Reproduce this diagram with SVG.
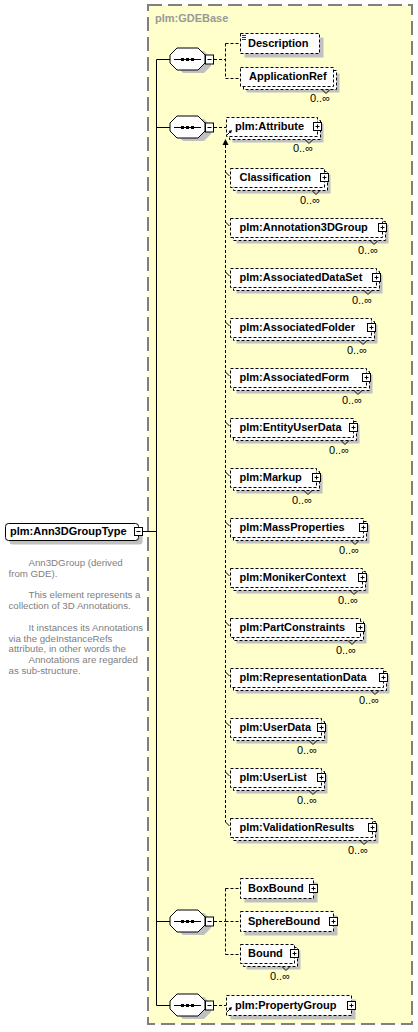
<svg xmlns="http://www.w3.org/2000/svg" width="418" height="1032" viewBox="0 0 418 1032">
<style>
.frame{fill:#FFFFCC;stroke:#808080;stroke-width:2;stroke-dasharray:14,6}
.sh{fill:#C0C0C0}
.bx{fill:#fff;stroke:#000;stroke-dasharray:3,2}
.sol{fill:#fff;stroke:#000}
.btn{fill:#fff;stroke:#000}
.ln{stroke:#000;fill:none}
.dl{stroke:#000;fill:none;stroke-dasharray:3,2}
.t{font-family:"Liberation Sans",Arial,sans-serif;font-weight:bold;font-size:11px;fill:#000}
.o{font-family:"Liberation Sans",Arial,sans-serif;font-size:11px;fill:#000;text-anchor:end}
.g{font-family:"Liberation Sans",Arial,sans-serif;font-weight:bold;font-size:11px;fill:#999}
.a{font-family:"Liberation Sans",Arial,sans-serif;font-size:9.7px;fill:#808080}
</style>
<defs>
<g id="seq">
<polygon class="sh" points="3,-4 10,-11 31,-11 38,-4 38,4 31,11 10,11 3,4" transform="translate(3,3)"/>
<polygon class="sol" points="0,-4 7,-11 28,-11 35,-4 35,4 28,11 7,11 0,4"/>
<line class="ln" x1="4" y1="0.5" x2="31" y2="0.5"/>
<rect x="11" y="-1" width="3" height="3" fill="#000"/>
<rect x="16" y="-1" width="3" height="3" fill="#000"/>
<rect x="21" y="-1" width="3" height="3" fill="#000"/>
<rect class="btn" x="35.5" y="-4" width="8" height="9"/>
<line class="ln" x1="37.5" y1="0.5" x2="41.5" y2="0.5"/>
</g>
<g id="plus">
<rect class="btn" x="-4" y="-4" width="8" height="8"/>
<path class="ln" d="M-2,0H2M0,-2V2"/>
</g>
<g id="ref">
<path d="M0,0L4,-4" stroke="#000"/>
<polygon points="5,-5 1.5,-4 4,-1.5" fill="#000"/>
</g>
</defs>

<rect class="frame" x="148" y="5" width="264" height="1019"/>
<text class="g" x="155" y="22">plm:GDEBase</text>

<g id="connectors">
<line class="ln" x1="143" y1="531.5" x2="156.5" y2="531.5"/>
<line class="ln" x1="156.5" y1="59.5" x2="156.5" y2="1005.5"/>
<line class="ln" x1="156.5" y1="59.5" x2="170" y2="59.5"/>
<line class="ln" x1="156.5" y1="127.5" x2="170" y2="127.5"/>
<line class="ln" x1="156.5" y1="921.5" x2="170" y2="921.5"/>
<line class="ln" x1="156.5" y1="1005.5" x2="170" y2="1005.5"/>
<path class="dl" d="M214,59.5H225.5M225.5,43.5V78.5M225.5,43.5H240M225.5,78.5H240"/>
<path class="dl" d="M214,127.5H226"/>
<path class="dl" d="M225.5,145V822"/>
<polygon points="225.5,139 222.5,145 228.5,145" fill="#000"/>
<path class="dl" d="M214,921.5H225.5M225.5,888.5V954.5M225.5,888.5H240M225.5,921.5H240M225.5,954.5H240"/>
<path class="dl" d="M214,1005.5H226"/>
</g>

<g id="root">
<rect class="sh" x="9.5" y="527.5" width="133" height="17" rx="3"/>
<rect class="sol" x="5.5" y="523.5" width="133" height="17" rx="3"/>
<text class="t" x="10" y="535">plm:Ann3DGroupType</text>
<rect class="btn" x="134.5" y="527.5" width="8" height="8"/>
<line class="ln" x1="136.5" y1="531.5" x2="140.5" y2="531.5"/>
</g>

<g id="annotation" class="a">
<text x="28.5" y="566">Ann3DGroup (derived</text>
<text x="8.5" y="576.8">from GDE).</text>
<text x="28.5" y="598.4">This element represents a</text>
<text x="8.5" y="609.2">collection of 3D Annotations.</text>
<text x="28.5" y="630.8">It instances its Annotations</text>
<text x="8.5" y="641.6">via the gdeInstanceRefs</text>
<text x="8.5" y="652.4">attribute, in other words the</text>
<text x="28.5" y="663.2">Annotations are regarded</text>
<text x="8.5" y="674">as sub-structure.</text>
</g>

<g id="seq1"><use href="#seq" x="170" y="59"/></g>
<g id="seq2"><use href="#seq" x="170" y="127"/></g>
<g id="seq3"><use href="#seq" x="170" y="921"/></g>
<g id="seq4"><use href="#seq" x="170" y="1005"/></g>

<g id="Description">
<rect class="sh" x="244.5" y="37.5" width="79" height="20"/>
<rect class="bx" x="240.5" y="33.5" width="79" height="20"/>
<path class="ln" d="M242,35.5H246M242,37.5H246M242,39.5H246" stroke-width="0.8"/>
<text class="t" x="248" y="47">Description</text>
</g>

<g id="ApplicationRef">
<rect class="sh" x="246.5" y="73.5" width="93" height="19"/>
<rect class="bx" x="243.5" y="70.5" width="93" height="19"/>
<rect class="bx" x="240.5" y="67.5" width="93" height="19"/>
<text class="t" x="249" y="80">ApplicationRef</text>
<polyline class="ln" points="322,89.5 326,93.5 330,89.5"/>
<text class="o" x="330" y="102">0..∞</text>
</g>

<g id="Attribute">
<rect class="sh" x="232.5" y="123.5" width="91" height="19"/>
<rect class="bx" x="229.5" y="120.5" width="91" height="19"/>
<rect class="bx" x="226.5" y="117.5" width="91" height="19"/>
<text class="t" x="235" y="130">plm:Attribute</text>
<use href="#plus" x="317.5" y="126.5"/>
<use href="#ref" x="227" y="135"/>
<polyline class="ln" points="305,139.5 309,143.5 313,139.5"/>
<text class="o" x="313" y="152">0..∞</text>
</g>

<g id="Classification">
<path class="ln" d="M225.5,172L229.5,176"/>
<rect class="sh" x="236.5" y="174.5" width="94" height="19"/>
<rect class="bx" x="233.5" y="171.5" width="94" height="19"/>
<rect class="bx" x="230.5" y="168.5" width="94" height="19"/>
<text class="t" x="239.5" y="181">Classification</text>
<use href="#plus" x="324.5" y="177.5"/>
<polyline class="ln" points="312,190.5 316,194.5 320,190.5"/>
<text class="o" x="320" y="203.5">0..∞</text>
</g>

<g id="Annotation3DGroup">
<path class="ln" d="M225.5,222L229.5,226"/>
<rect class="sh" x="236.5" y="224.5" width="152" height="19"/>
<rect class="bx" x="233.5" y="221.5" width="152" height="19"/>
<rect class="bx" x="230.5" y="218.5" width="152" height="19"/>
<text class="t" x="239.5" y="231">plm:Annotation3DGroup</text>
<use href="#plus" x="382.5" y="227.5"/>
<polyline class="ln" points="370,240.5 374,244.5 378,240.5"/>
<text class="o" x="378" y="253.5">0..∞</text>
</g>

<g id="AssociatedDataSet">
<path class="ln" d="M225.5,272L229.5,276"/>
<rect class="sh" x="236.5" y="274.5" width="146" height="19"/>
<rect class="bx" x="233.5" y="271.5" width="146" height="19"/>
<rect class="bx" x="230.5" y="268.5" width="146" height="19"/>
<text class="t" x="239.5" y="281">plm:AssociatedDataSet</text>
<use href="#plus" x="376.5" y="277.5"/>
<polyline class="ln" points="364,290.5 368,294.5 372,290.5"/>
<text class="o" x="372" y="303.5">0..∞</text>
</g>

<g id="AssociatedFolder">
<path class="ln" d="M225.5,322L229.5,326"/>
<rect class="sh" x="236.5" y="324.5" width="141" height="19"/>
<rect class="bx" x="233.5" y="321.5" width="141" height="19"/>
<rect class="bx" x="230.5" y="318.5" width="141" height="19"/>
<text class="t" x="239.5" y="331">plm:AssociatedFolder</text>
<use href="#plus" x="371.5" y="327.5"/>
<polyline class="ln" points="359,340.5 363,344.5 367,340.5"/>
<text class="o" x="367" y="353.5">0..∞</text>
</g>

<g id="AssociatedForm">
<path class="ln" d="M225.5,372L229.5,376"/>
<rect class="sh" x="236.5" y="374.5" width="136" height="19"/>
<rect class="bx" x="233.5" y="371.5" width="136" height="19"/>
<rect class="bx" x="230.5" y="368.5" width="136" height="19"/>
<text class="t" x="239.5" y="381">plm:AssociatedForm</text>
<use href="#plus" x="366.5" y="377.5"/>
<polyline class="ln" points="354,390.5 358,394.5 362,390.5"/>
<text class="o" x="362" y="403.5">0..∞</text>
</g>

<g id="EntityUserData">
<path class="ln" d="M225.5,422L229.5,426"/>
<rect class="sh" x="236.5" y="424.5" width="123" height="19"/>
<rect class="bx" x="233.5" y="421.5" width="123" height="19"/>
<rect class="bx" x="230.5" y="418.5" width="123" height="19"/>
<text class="t" x="239.5" y="431">plm:EntityUserData</text>
<use href="#plus" x="353.5" y="427.5"/>
<polyline class="ln" points="341,440.5 345,444.5 349,440.5"/>
<text class="o" x="349" y="453.5">0..∞</text>
</g>

<g id="Markup">
<path class="ln" d="M225.5,472L229.5,476"/>
<rect class="sh" x="236.5" y="474.5" width="86" height="19"/>
<rect class="bx" x="233.5" y="471.5" width="86" height="19"/>
<rect class="bx" x="230.5" y="468.5" width="86" height="19"/>
<text class="t" x="239.5" y="481">plm:Markup</text>
<use href="#plus" x="316.5" y="477.5"/>
<polyline class="ln" points="304,490.5 308,494.5 312,490.5"/>
<text class="o" x="312" y="503.5">0..∞</text>
</g>

<g id="MassProperties">
<path class="ln" d="M225.5,522L229.5,526"/>
<rect class="sh" x="236.5" y="524.5" width="133" height="19"/>
<rect class="bx" x="233.5" y="521.5" width="133" height="19"/>
<rect class="bx" x="230.5" y="518.5" width="133" height="19"/>
<text class="t" x="239.5" y="531">plm:MassProperties</text>
<use href="#plus" x="363.5" y="527.5"/>
<polyline class="ln" points="351,540.5 355,544.5 359,540.5"/>
<text class="o" x="359" y="553.5">0..∞</text>
</g>

<g id="MonikerContext">
<path class="ln" d="M225.5,572L229.5,576"/>
<rect class="sh" x="236.5" y="574.5" width="132" height="19"/>
<rect class="bx" x="233.5" y="571.5" width="132" height="19"/>
<rect class="bx" x="230.5" y="568.5" width="132" height="19"/>
<text class="t" x="239.5" y="581">plm:MonikerContext</text>
<use href="#plus" x="362.5" y="577.5"/>
<polyline class="ln" points="350,590.5 354,594.5 358,590.5"/>
<text class="o" x="358" y="603.5">0..∞</text>
</g>

<g id="PartConstraints">
<path class="ln" d="M225.5,622L229.5,626"/>
<rect class="sh" x="236.5" y="624.5" width="130" height="19"/>
<rect class="bx" x="233.5" y="621.5" width="130" height="19"/>
<rect class="bx" x="230.5" y="618.5" width="130" height="19"/>
<text class="t" x="239.5" y="631">plm:PartConstraints</text>
<use href="#plus" x="360.5" y="627.5"/>
<polyline class="ln" points="348,640.5 352,644.5 356,640.5"/>
<text class="o" x="356" y="653.5">0..∞</text>
</g>

<g id="RepresentationData">
<path class="ln" d="M225.5,672L229.5,676"/>
<rect class="sh" x="236.5" y="674.5" width="153" height="19"/>
<rect class="bx" x="233.5" y="671.5" width="153" height="19"/>
<rect class="bx" x="230.5" y="668.5" width="153" height="19"/>
<text class="t" x="239.5" y="681">plm:RepresentationData</text>
<use href="#plus" x="383.5" y="677.5"/>
<polyline class="ln" points="371,690.5 375,694.5 379,690.5"/>
<text class="o" x="379" y="703.5">0..∞</text>
</g>

<g id="UserData">
<path class="ln" d="M225.5,722L229.5,726"/>
<rect class="sh" x="236.5" y="724.5" width="91" height="19"/>
<rect class="bx" x="233.5" y="721.5" width="91" height="19"/>
<rect class="bx" x="230.5" y="718.5" width="91" height="19"/>
<text class="t" x="239.5" y="731">plm:UserData</text>
<use href="#plus" x="321.5" y="727.5"/>
<polyline class="ln" points="309,740.5 313,744.5 317,740.5"/>
<text class="o" x="317" y="753.5">0..∞</text>
</g>

<g id="UserList">
<path class="ln" d="M225.5,772L229.5,776"/>
<rect class="sh" x="236.5" y="774.5" width="91" height="19"/>
<rect class="bx" x="233.5" y="771.5" width="91" height="19"/>
<rect class="bx" x="230.5" y="768.5" width="91" height="19"/>
<text class="t" x="239.5" y="781">plm:UserList</text>
<use href="#plus" x="321.5" y="777.5"/>
<polyline class="ln" points="309,790.5 313,794.5 317,790.5"/>
<text class="o" x="317" y="803.5">0..∞</text>
</g>

<g id="ValidationResults">
<path class="ln" d="M225.5,822L229.5,826"/>
<rect class="sh" x="236.5" y="824.5" width="142" height="19"/>
<rect class="bx" x="233.5" y="821.5" width="142" height="19"/>
<rect class="bx" x="230.5" y="818.5" width="142" height="19"/>
<text class="t" x="239.5" y="831">plm:ValidationResults</text>
<use href="#plus" x="372.5" y="827.5"/>
<polyline class="ln" points="360,840.5 364,844.5 368,840.5"/>
<text class="o" x="368" y="853.5">0..∞</text>
</g>

<g id="BoxBound">
<rect class="sh" x="244.5" y="882.5" width="73" height="20"/>
<rect class="bx" x="240.5" y="878.5" width="73" height="20"/>
<text class="t" x="248" y="892">BoxBound</text>
<use href="#plus" x="313.5" y="888.5"/>
</g>

<g id="SphereBound">
<rect class="sh" x="244.5" y="915.5" width="93" height="20"/>
<rect class="bx" x="240.5" y="911.5" width="93" height="20"/>
<text class="t" x="248" y="925">SphereBound</text>
<use href="#plus" x="333.5" y="921.5"/>
</g>

<g id="Bound">
<rect class="sh" x="246.5" y="950.5" width="54" height="19"/>
<rect class="bx" x="243.5" y="947.5" width="54" height="19"/>
<rect class="bx" x="240.5" y="944.5" width="54" height="19"/>
<text class="t" x="248" y="957">Bound</text>
<use href="#plus" x="294.5" y="953.5"/>
<polyline class="ln" points="282,966.5 286,970.5 290,966.5"/>
<text class="o" x="290" y="980">0..∞</text>
</g>

<g id="PropertyGroup">
<rect class="sh" x="230.5" y="999.5" width="125" height="20"/>
<rect class="bx" x="226.5" y="995.5" width="125" height="20"/>
<text class="t" x="235" y="1008.5">plm:PropertyGroup</text>
<use href="#plus" x="351.5" y="1005.5"/>
<use href="#ref" x="227" y="1012"/>
</g>
</svg>
